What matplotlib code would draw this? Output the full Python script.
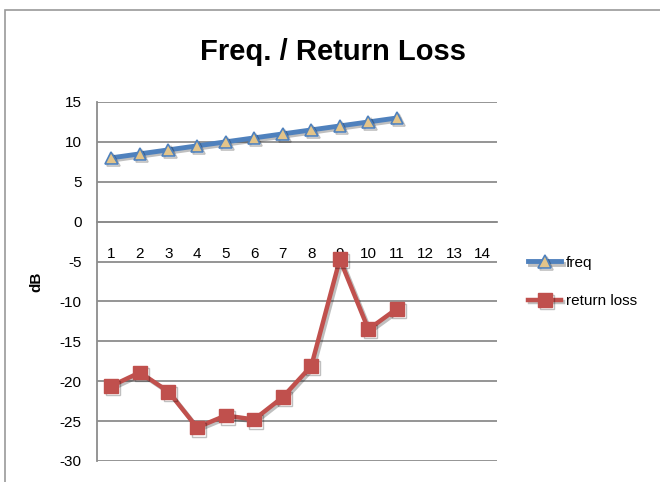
import matplotlib
matplotlib.use("Agg")
import matplotlib.pyplot as plt
import matplotlib.patheffects as pe
from matplotlib.patches import Rectangle

categories = list(range(1, 15))
freq_x = list(range(1, 12))
freq = [8, 8.5, 9, 9.5, 10, 10.5, 11, 11.5, 12, 12.5, 13]
return_loss = [-20.6, -18.9, -21.3, -25.8, -24.3, -24.8, -22.0, -18.1, -4.7, -13.5, -10.9]
yticks = [15, 10, 5, 0, -5, -10, -15, -20, -25, -30]

plt.rcParams['font.family'] = ['Liberation Sans', 'DejaVu Sans']

W, H = 660, 482
fig = plt.figure(figsize=(W / 100, H / 100), dpi=100)
fig.patches.append(Rectangle((5 / W, -0.1), 1.2, 1 - 10 / H + 0.1, transform=fig.transFigure,
                             fill=False, edgecolor='#9a9a9a', linewidth=1.2))

ax = fig.add_axes([97 / W, 1 - 461 / H, 400 / W, 359 / H])
ax.set_xlim(0.5, 14.5)
ax.set_ylim(-30, 15)
ax.set_yticks(yticks)
ax.set_yticklabels([str(v) for v in yticks], fontsize=11)
ax.yaxis.grid(True, color='#8c8c8c', linewidth=1.3)
ax.set_axisbelow(True)
ax.tick_params(axis='y', length=0, pad=11)
for s in ['top', 'right']:
    ax.spines[s].set_visible(False)
ax.spines['left'].set_color('#8c8c8c')
ax.spines['left'].set_linewidth(1.3)
ax.spines['bottom'].set_position(('data', 0))
ax.spines['bottom'].set_color('#8c8c8c')
ax.spines['bottom'].set_linewidth(1.3)
ax.set_xticks(categories)
ax.set_xticklabels([str(c) for c in categories], fontsize=11)
ax.tick_params(axis='x', length=0, pad=18)

shadow = [pe.SimpleLineShadow(offset=(1.5, -1.5), shadow_color='black', alpha=0.25), pe.Normal()]
ax.plot(freq_x, freq, color='#4F81BD', linewidth=3.5, marker='^', markersize=9,
        markerfacecolor='#E3C489', markeredgecolor='#4F81BD', markeredgewidth=1.2,
        label='freq', path_effects=shadow)
ax.plot(freq_x, return_loss, color='#C0504D', linewidth=3.2, marker='s', markersize=10,
        markerfacecolor='#C0504D', markeredgecolor='#C0504D',
        label='return loss', path_effects=shadow)

ax.set_ylabel('dB', fontsize=11, fontweight='bold', labelpad=12)
fig.text(333 / W, 1 - 52 / H, 'Freq. / Return Loss', fontsize=21, fontweight='bold',
         ha='center', va='center')

fig.legend(loc='center left', bbox_to_anchor=(514 / W, 1 - 282 / H), frameon=False,
           fontsize=11, labelspacing=1.6, handlelength=2.2, handletextpad=0.3)

fig.savefig('out.png', dpi=100)
